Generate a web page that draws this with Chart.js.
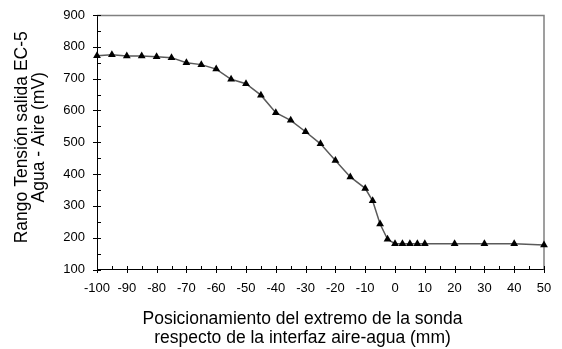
<!DOCTYPE html>
<html>
<head>
<meta charset="utf-8">
<script src="https://cdn.jsdelivr.net/npm/chart.js@4/dist/chart.umd.min.js"></script>
<style>
  html, body { margin: 0; padding: 0; background: #fff; }
  #wrap { width: 562px; height: 349px; }
</style>
</head>
<body>
<div id="wrap"><canvas id="c" width="562" height="349"></canvas></div>
<script>
// Probe tip position relative to the air-water interface (mm)
const positions = [-100, -95, -90, -85, -80, -75, -70, -65, -60, -55, -50, -45, -40, -35, -30, -25,
                   -20, -15, -10, -7.5, -5, -2.5, 0, 2.5, 5, 7.5, 10, 20, 30, 40, 50];
// EC-5 output voltage range, water minus air (mV)
const voltages = [772, 775, 771, 771, 769, 766, 750, 744, 730, 698, 684, 648, 593, 569, 533, 495,
                  443, 391, 355, 316, 243, 195, 181, 181, 181, 181, 181, 181, 181, 181, 177];

const xTitle = ['Posicionamiento del extremo de la sonda', 'respecto de la interfaz aire-agua (mm)'];
const yTitle = ['Rango Tensión salida EC-5', 'Agua - Aire (mV)'];

const FONT = 'Liberation Sans, Arial, sans-serif';
const points = positions.map((x, i) => ({ x: x, y: voltages[i] }));

// Grey frame on top/right, major (crossing) and minor (inside) tick marks, axis titles
const frameAndTitles = {
  id: 'frameAndTitles',
  beforeDatasetsDraw(chart) {
    const { ctx, chartArea: a, scales: { x, y } } = chart;
    ctx.save();
    ctx.strokeStyle = '#808080';
    ctx.lineWidth = 1.5;
    ctx.beginPath();
    ctx.moveTo(a.left, a.top + 0.5);
    ctx.lineTo(a.right, a.top + 0.5);
    ctx.lineTo(a.right, a.bottom);
    ctx.stroke();

    ctx.strokeStyle = '#000';
    ctx.lineWidth = 1;
    ctx.beginPath();
    for (let v = x.min; v <= x.max + 1e-9; v += 5) {
      const px = Math.round(x.getPixelForValue(v)) + 0.5;
      const major = Math.abs(v % 10) < 1e-9;
      ctx.moveTo(px, a.bottom - 3.5);
      ctx.lineTo(px, a.bottom + (major ? 3.5 : 0));
    }
    for (let v = y.min; v <= y.max + 1e-9; v += 50) {
      const py = Math.round(y.getPixelForValue(v)) + 0.5;
      const major = Math.abs(v % 100) < 1e-9;
      ctx.moveTo(a.left - (major ? 4 : 0), py);
      ctx.lineTo(a.left + 4, py);
    }
    ctx.stroke();

    ctx.fillStyle = '#000';
    ctx.font = '17.5px ' + FONT;
    ctx.textAlign = 'center';
    ctx.textBaseline = 'alphabetic';
    const cx = (a.left + a.right) / 2 - 18;
    ctx.fillText(xTitle[0], cx, a.bottom + 54.5);
    ctx.fillText(xTitle[1], cx, a.bottom + 73.5);

    const cy = (a.top + a.bottom) / 2 - 5;
    ctx.translate(0, cy);
    ctx.rotate(-Math.PI / 2);
    ctx.fillText(yTitle[0], 0, 27);
    ctx.fillText(yTitle[1], 0, 44);
    ctx.restore();
  }
};

new Chart(document.getElementById('c'), {
  type: 'scatter',
  data: {
    datasets: [{
      data: points,
      showLine: true,
      clip: false,
      borderColor: '#5a5a5a',
      borderWidth: 1.5,
      pointStyle: 'triangle',
      pointRadius: 4.5,
      pointBackgroundColor: '#000',
      pointBorderColor: '#000',
      pointBorderWidth: 0,
      tension: 0
    }]
  },
  options: {
    responsive: false,
    animation: false,
    devicePixelRatio: 1,
    layout: { padding: { top: 15, right: 18, left: 0, bottom: 0 } },
    plugins: { legend: { display: false }, tooltip: { enabled: false } },
    scales: {
      x: {
        type: 'linear',
        min: -100, max: 50,
        afterFit(s) { s.height = 79.5; s.paddingRight = 0; },
        grid: { display: false, drawTicks: false },
        border: { display: true, color: '#000', width: 1 },
        ticks: { stepSize: 10, color: '#000', padding: 11.5, maxRotation: 0, minRotation: 0,
                 autoSkip: false, font: { family: FONT, size: 13 } },
        title: { display: false }
      },
      y: {
        min: 100, max: 900,
        afterFit(s) { s.width = 97; s.paddingTop = 0; s.paddingBottom = 0; },
        grid: { display: false, drawTicks: false },
        border: { display: true, color: '#000', width: 1 },
        ticks: { stepSize: 100, color: '#000', padding: 12,
                 font: { family: FONT, size: 13 } },
        title: { display: false }
      }
    }
  },
  plugins: [frameAndTitles]
});
</script>
</body>
</html>
